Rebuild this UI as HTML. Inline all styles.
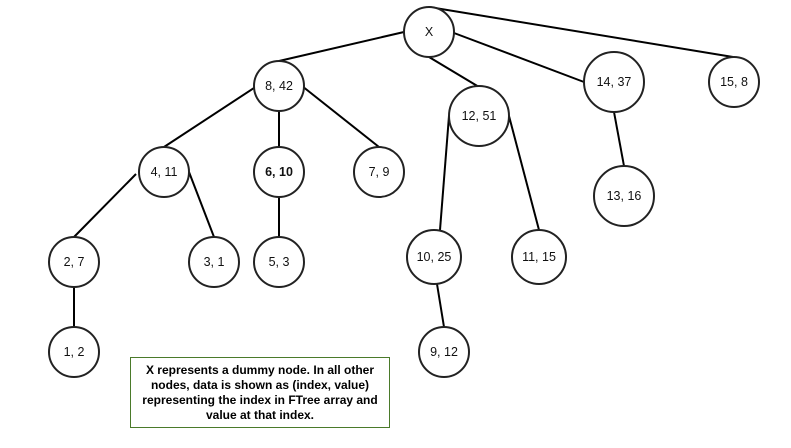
<!DOCTYPE html>
<html><head><style>
body{margin:0;background:#fff;width:791px;height:443px;overflow:hidden}
svg text{font-family:"Liberation Sans",Arial,sans-serif;font-size:12.5px;fill:#111;text-anchor:middle;dominant-baseline:central}
</style></head><body>
<svg width="791" height="443" viewBox="0 0 791 443" xmlns="http://www.w3.org/2000/svg">
<g stroke="#000" stroke-width="2" fill="none">
<line x1="404" y1="32" x2="279" y2="61"/>
<line x1="429" y1="57" x2="479" y2="87"/>
<line x1="454" y1="33" x2="584" y2="82"/>
<line x1="429" y1="7" x2="733" y2="57"/>
<line x1="257" y1="86" x2="164" y2="147"/>
<line x1="279" y1="111" x2="279" y2="147"/>
<line x1="302" y1="86" x2="379" y2="147"/>
<line x1="136" y1="174" x2="74" y2="237"/>
<line x1="189" y1="172" x2="214" y2="237"/>
<line x1="279" y1="197" x2="279" y2="237"/>
<line x1="74" y1="287" x2="74" y2="327"/>
<line x1="449" y1="116" x2="440" y2="230"/>
<line x1="509" y1="116" x2="539" y2="230"/>
<line x1="437" y1="284" x2="444" y2="327"/>
<line x1="614" y1="112" x2="624" y2="166"/>
</g>
<g stroke="#222" stroke-width="2" fill="#fff">
<circle cx="429" cy="32" r="25"/>
<circle cx="279" cy="86" r="25"/>
<circle cx="164" cy="172" r="25"/>
<circle cx="279" cy="172" r="25"/>
<circle cx="379" cy="172" r="25"/>
<circle cx="74" cy="262" r="25"/>
<circle cx="214" cy="262" r="25"/>
<circle cx="279" cy="262" r="25"/>
<circle cx="74" cy="352" r="25"/>
<circle cx="479" cy="116" r="30"/>
<circle cx="434" cy="257" r="27"/>
<circle cx="539" cy="257" r="27"/>
<circle cx="444" cy="352" r="25"/>
<circle cx="614" cy="82" r="30"/>
<circle cx="624" cy="196" r="30"/>
<circle cx="734" cy="82" r="25"/>
</g>
<text x="429" y="32">X</text>
<text x="279" y="86">8,  42</text>
<text x="164" y="172">4,  11</text>
<text x="279" y="172" font-weight="bold">6,  10</text>
<text x="379" y="172">7,  9</text>
<text x="74" y="262">2,  7</text>
<text x="214" y="262">3,  1</text>
<text x="279" y="262">5,  3</text>
<text x="74" y="352">1, 2</text>
<text x="479" y="116">12,  51</text>
<text x="434" y="257">10, 25</text>
<text x="539" y="257">11,  15</text>
<text x="444" y="352">9, 12</text>
<text x="614" y="82">14,  37</text>
<text x="624" y="196">13,  16</text>
<text x="734" y="82">15,  8</text>
<rect x="130.5" y="357.5" width="259" height="70" fill="#fff" stroke="#4a7a2a" stroke-width="1"/>
<text x="260" y="370" style="font-weight:bold;font-size:12px;fill:#000">X represents a dummy node. In all other</text>
<text x="260" y="385" style="font-weight:bold;font-size:12px;fill:#000">nodes, data is shown as (index, value)</text>
<text x="260" y="400" style="font-weight:bold;font-size:12px;fill:#000">representing the index in FTree array and</text>
<text x="260" y="415" style="font-weight:bold;font-size:12px;fill:#000">value at that index.</text>
</svg>
</body></html>
